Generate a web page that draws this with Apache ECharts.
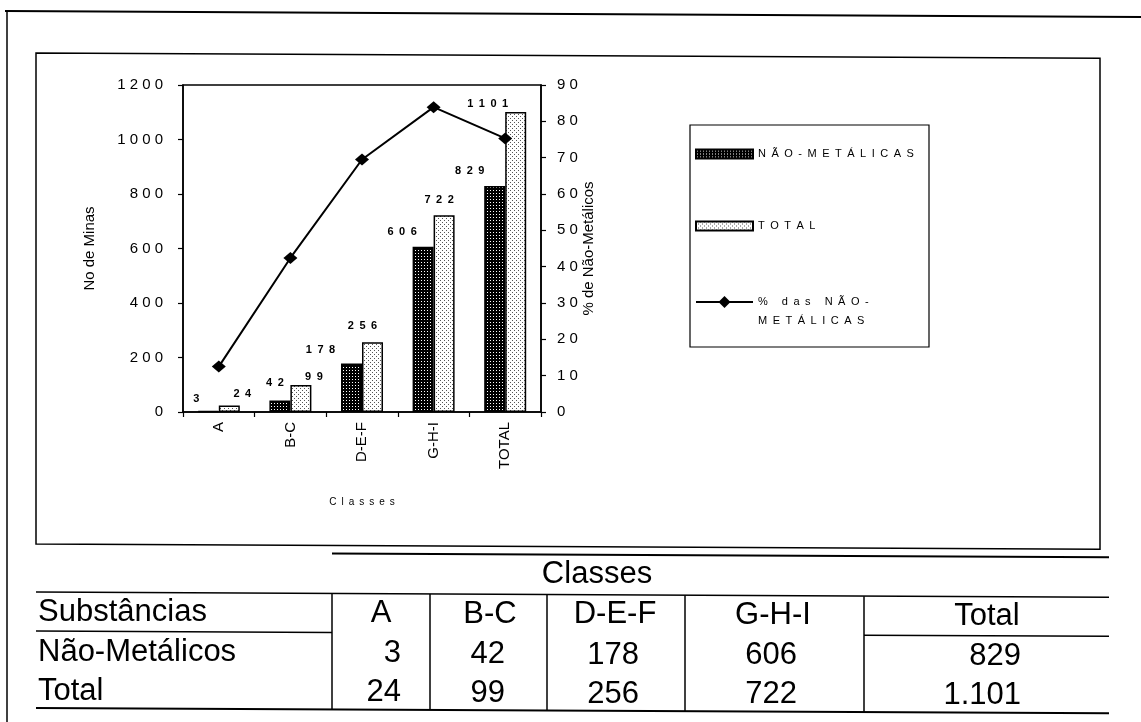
<!DOCTYPE html>
<html>
<head>
<meta charset="utf-8">
<script src="https://cdn.jsdelivr.net/npm/echarts@6/dist/echarts.min.js"></script>
<style>
  html, body { margin: 0; padding: 0; background: #fff; }
  #chart { width: 1141px; height: 722px; }
</style>
</head>
<body>
<div id="chart"></div>
<script>
// ---- data ----
const categories = ['A', 'B-C', 'D-E-F', 'G-H-I', 'TOTAL'];
const naoMetalicas = [3, 42, 178, 606, 829];
const totalMinas = [24, 99, 256, 722, 1101];
const percentNaoMetalicas = [12.5, 42.4, 69.5, 83.9, 75.3];
const seriesNames = ['NÃO-METÁLICAS', 'TOTAL', '% das NÃO-METÁLICAS'];
const tableHeaders = ['A', 'B-C', 'D-E-F', 'G-H-I', 'Total'];
const tableRowNames = ['Substâncias', 'Não-Metálicos', 'Total'];
const tableTitle = 'Classes';

// ---- styling helpers ----
const FONT = '"Liberation Sans", Arial, Helvetica, sans-serif';
const spaced = (s, gap) => String(s).split('').join(gap);
const thousands = v => String(v).replace(/\B(?=(\d{3})+(?!\d))/g, '.');

// small repeating dot textures for the bar fills
function dotPattern(bg, dot, size, pts) {
  const c = document.createElement('canvas');
  c.width = c.height = size;
  const g = c.getContext('2d');
  g.fillStyle = bg; g.fillRect(0, 0, size, size);
  g.fillStyle = dot;
  pts.forEach(p => g.fillRect(p[0], p[1], 1, 1));
  return c;
}
const darkFill = { image: dotPattern('#000', '#fff', 3, [[1, 1]]), repeat: 'repeat' };
const lightFill = { image: dotPattern('#fff', '#555', 4, [[0, 0], [2, 2]]), repeat: 'repeat' };

// value-label nudges (label centre relative to bar top centre)
const darkLabelShift = [[-12, -13], [-5, -19], [-31, -15], [-21, -16], [-25, -17]];
const lightLabelShift = [[13, -13], [13, -10], [-10, -18], [-5, -17], [-28, -10]];

const barLabel = {
  show: true, position: 'top', distance: 0,
  fontFamily: FONT, fontSize: 11, fontWeight: 'bold', color: '#000',
  formatter: p => spaced(p.value, '\u2002')
};
const withShift = (vals, shifts) => vals.map((v, i) => ({
  value: v, label: { offset: [shifts[i][0], shifts[i][1] + 7] }
}));

// ---- page frames and the table underneath (scan is slightly tilted) ----
const tilt = 0.005;
const ty = (x, y) => y + tilt * (x - 36);
const hLine = (x1, x2, y, w) => ({
  type: 'line', silent: true,
  shape: { x1: x1, y1: ty(x1, y), x2: x2, y2: ty(x2, y) },
  style: { stroke: '#000', lineWidth: w || 1.5 }
});
const vLine = (x, y1, y2) => ({
  type: 'line', silent: true,
  shape: { x1: x, y1: ty(x, y1), x2: x, y2: ty(x, y2) },
  style: { stroke: '#000', lineWidth: 1.5 }
});
const cellText = (text, x, y, align) => ({
  type: 'text', silent: true, x: x, y: ty(x, y),
  style: { text: text, fill: '#000', font: '31px ' + FONT, align: align || 'center', verticalAlign: 'middle' }
});

const graphics = [];
// outer page border
graphics.push({ type: 'line', silent: true, shape: { x1: 5, y1: 11, x2: 1141, y2: 17 }, style: { stroke: '#000', lineWidth: 2 } });
graphics.push({ type: 'line', silent: true, shape: { x1: 7, y1: 11, x2: 7, y2: 722 }, style: { stroke: '#000', lineWidth: 1.5 } });
// chart frame
graphics.push({
  type: 'polygon', silent: true,
  shape: { points: [[36, ty(36, 53)], [1100, ty(1100, 53)], [1100, ty(1100, 544)], [36, ty(36, 544)]] },
  style: { fill: 'none', stroke: '#000', lineWidth: 1.5 }
});
// legend frame
graphics.push({ type: 'rect', silent: true, shape: { x: 690, y: 125, width: 239, height: 222 }, style: { fill: 'none', stroke: '#000', lineWidth: 1.2 } });

// table
const colRight = [332, 430, 547, 685, 864, 1109];
const headCenter = [381, 490, 615, 773, 987];
const numRight = [401, 505, 639, 797, 1021];
const rowY = [612, 652, 691];
graphics.push(hLine(332, 1109, 552, 2));
graphics.push(cellText(tableTitle, 597, 572));
graphics.push(hLine(36, 1109, 592));
graphics.push(hLine(36, 332, 631));
graphics.push(hLine(864, 1109, 631));
graphics.push(hLine(36, 1109, 708, 2));
colRight.slice(0, 5).forEach(x => graphics.push(vLine(x, 592, 708)));
tableRowNames.forEach((n, r) => graphics.push(cellText(n, 38, rowY[r], 'left')));
tableHeaders.forEach((h, c) => graphics.push(cellText(h, headCenter[c], rowY[0])));
naoMetalicas.forEach((v, c) => graphics.push(cellText(thousands(v), numRight[c], rowY[1], 'right')));
totalMinas.forEach((v, c) => graphics.push(cellText(thousands(v), numRight[c], rowY[2], 'right')));

// ---- chart ----
const axisLineStyle = { show: true, lineStyle: { color: '#000', width: 1.5 } };
const axisTickStyle = { show: true, length: 5, lineStyle: { color: '#000', width: 1.2 } };
const legendText = { fontFamily: FONT, fontSize: 11, color: '#000', lineHeight: 14 };

const option = {
  animation: false,
  backgroundColor: '#fff',
  textStyle: { fontFamily: FONT },
  grid: {
    left: 183, right: 600, top: 85, bottom: 310,
    show: true, borderColor: '#000', borderWidth: 1.5, backgroundColor: 'transparent',
    outerBoundsMode: 'none'
  },
  legend: [
    {
      data: [seriesNames[0]], left: 695, top: 147, orient: 'vertical', padding: 0,
      itemWidth: 57, itemHeight: 9, icon: 'rect', selectedMode: false,
      textStyle: legendText, formatter: n => spaced(n, '\u2002')
    },
    {
      data: [seriesNames[1]], left: 695, top: 219, orient: 'vertical', padding: 0,
      itemWidth: 57, itemHeight: 9, icon: 'rect', selectedMode: false,
      textStyle: legendText, formatter: n => spaced(n, '\u2002')
    },
    {
      // leading blank line keeps the first text line level with the marker
      data: [seriesNames[2]], left: 695, top: 273.5, orient: 'vertical', padding: 0,
      itemWidth: 57, itemHeight: 15, selectedMode: false,
      textStyle: Object.assign({}, legendText, { lineHeight: 19 }),
      formatter: n => '\n' + spaced('% das NÃO-', '\u2002') + '\n' + spaced('METÁLICAS', '\u2002')
    }
  ],
  xAxis: {
    type: 'category', data: categories,
    axisLine: axisLineStyle, axisTick: axisTickStyle,
    axisLabel: { rotate: 90, margin: 10, fontSize: 15, color: '#000', fontFamily: FONT },
    splitLine: { show: false },
    name: spaced('Classes', '\u2002'), nameLocation: 'middle', nameGap: 85,
    nameTextStyle: { fontSize: 10, color: '#000', fontFamily: FONT }
  },
  yAxis: [
    {
      type: 'value', min: 0, max: 1200, interval: 200, position: 'left',
      axisLine: axisLineStyle, axisTick: axisTickStyle,
      axisLabel: { margin: 20, fontSize: 15, color: '#000', fontFamily: FONT, formatter: v => spaced(v, ' ') },
      splitLine: { show: false },
      name: 'No de Minas', nameLocation: 'middle', nameRotate: 90, nameGap: 86,
      nameTextStyle: { fontSize: 15, color: '#000', fontFamily: FONT }
    },
    {
      type: 'value', min: 0, max: 90, interval: 10, position: 'right',
      axisLine: axisLineStyle, axisTick: axisTickStyle,
      axisLabel: { margin: 16, fontSize: 15, color: '#000', fontFamily: FONT, formatter: v => spaced(v, ' ') },
      splitLine: { show: false },
      name: '% de Não-Metálicos', nameLocation: 'middle', nameRotate: 90, nameGap: 28,
      nameTextStyle: { fontSize: 15, color: '#000', fontFamily: FONT }
    }
  ],
  series: [
    {
      name: seriesNames[0], type: 'bar', barWidth: 21, barGap: '0%',
      data: withShift(naoMetalicas, darkLabelShift),
      itemStyle: { color: darkFill, borderColor: '#000', borderWidth: 1.5 },
      label: barLabel
    },
    {
      name: seriesNames[1], type: 'bar', barWidth: 21, barGap: '0%',
      data: withShift(totalMinas, lightLabelShift),
      itemStyle: { color: lightFill, borderColor: '#000', borderWidth: 1.5 },
      label: barLabel
    },
    {
      name: seriesNames[2], type: 'line', yAxisIndex: 1, z: 5,
      data: percentNaoMetalicas,
      symbol: 'diamond', symbolSize: [14, 12],
      lineStyle: { color: '#000', width: 2 },
      itemStyle: { color: '#000' }
    }
  ],
  graphic: graphics
};

const chart = echarts.init(document.getElementById('chart'), null, { renderer: 'canvas' });
chart.setOption(option);
</script>
</body>
</html>
